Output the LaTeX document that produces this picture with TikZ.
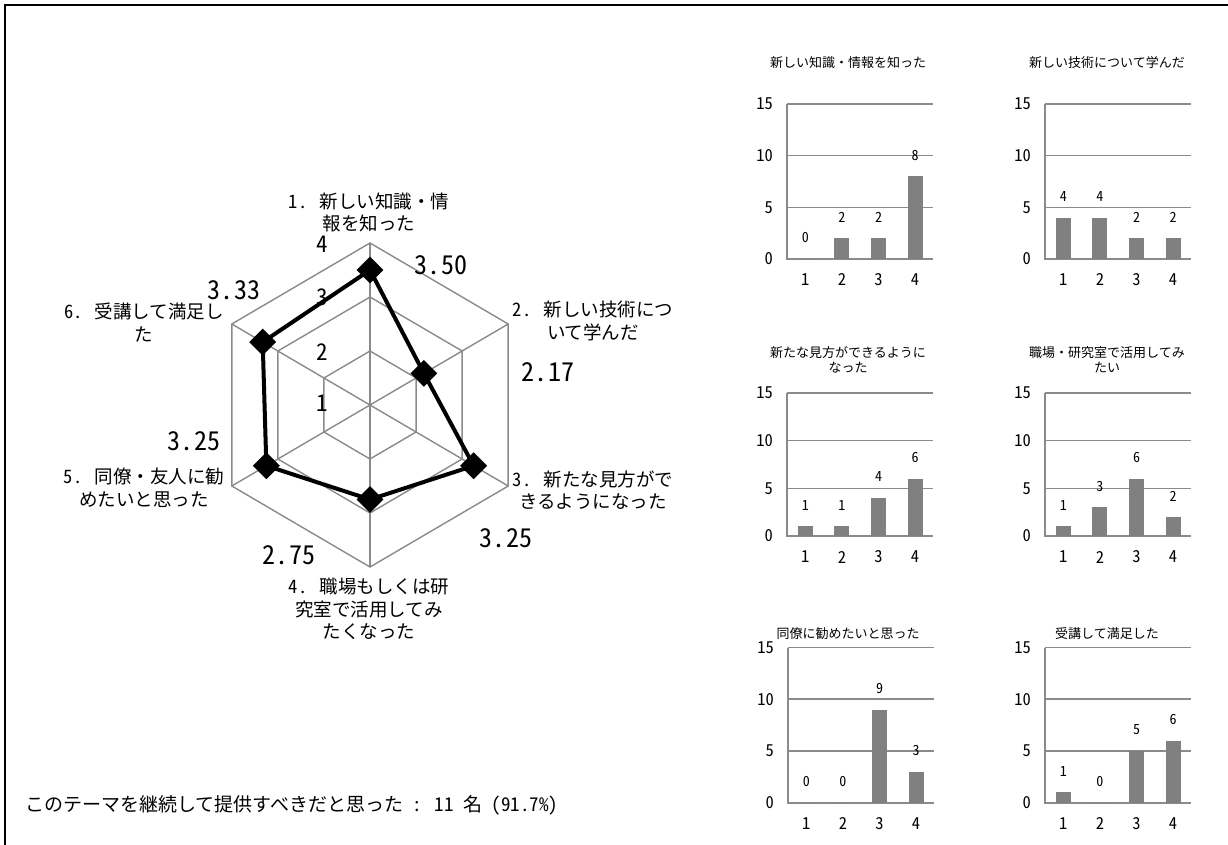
\documentclass[tikz,border=0pt]{standalone}
\usepackage{fontspec}
\setmainfont[RawFeature=+hwid]{Noto Sans CJK JP}
\usetikzlibrary{shapes.geometric}
\definecolor{gridgray}{RGB}{138,138,138}
\definecolor{barfill}{RGB}{128,128,128}
\tikzset{
  radargrid/.style={draw=gridgray,line width=1.4pt},
  dataline/.style={draw=black,line width=4pt,line join=round},
  datadiamond/.style={diamond,aspect=1,fill=black,minimum size=27pt,inner sep=0pt},
  catlab/.style={align=center,inner sep=0pt,font=\fontsize{18.5}{22.5}\selectfont},
  vallab/.style={inner sep=0pt,font=\fontsize{26}{28}\selectfont},
  axlab/.style={inner sep=0pt,font=\fontsize{23}{25}\selectfont},
  bargrid/.style={draw=gridgray,line width=1.5pt},
  baraxis/.style={draw=gridgray,line width=2pt},
  barbox/.style={fill=barfill},
  ticklab/.style={anchor=east,inner sep=0pt,font=\fontsize{16.5}{18}\selectfont},
  catnum/.style={inner sep=0pt,font=\fontsize{16.5}{18}\selectfont},
  barval/.style={inner sep=0pt,font=\fontsize{14}{16}\selectfont},
  bartitle/.style={align=center,inner sep=0pt,font=\fontsize{13}{15.5}\selectfont},
}
\newcommand\mybars[8]{%
\begin{scope}[shift={(#1,#2)}]
\foreach \k in {5,10,15}{\draw[bargrid] (0,-\k*#3) -- (146,-\k*#3);}
\draw[baraxis] (0,-15*#3) -- (0,0) -- (146,0);
\foreach \k in {0,5,10,15}{\node[ticklab] (#8-y\k) at (-14,-\k*#3) {\k};}
\foreach \v [count=\i] in {#4,#5,#6,#7}{%
  \pgfmathsetmacro\cx{18.3+36.6*(\i-1)}
  \fill[barbox] (\cx-7.5,0) rectangle (\cx+7.5,-\v*#3);
  \node[barval] (#8-v\i) at (\cx,-\v*#3-21) {\v};
  \node[catnum] (#8-x\i) at (\cx,21) {\i};
}
\end{scope}}
\begin{document}
\begin{tikzpicture}[x=1pt,y=-1pt]
\useasboundingbox (0,0) rectangle (1228,845);
% frame
\coordinate (f1) at (5,845);
\coordinate (f2) at (5,5);
\coordinate (f3) at (1228,5);
\draw[line width=1.2pt] (f1) -- (f2) -- (f3);

% radar chart
\begin{scope}[shift={(370,405)},xscale=0.985]
  \foreach \r in {54,108,162}{
    \draw[radargrid] (-90:\r) -- (-30:\r) -- (30:\r) -- (90:\r) -- (150:\r) -- (210:\r) -- cycle;
  }
  \foreach \a in {-90,-30,30,90,150,210}{\draw[radargrid] (0,0) -- (\a:162);}
\end{scope}
\node[axlab] (a1) at (322,403) {1};
\node[axlab] (a2) at (322,352) {2};
\node[axlab] (a3) at (322,297) {3};
\node[axlab] (a4) at (322,244) {4};
\begin{scope}[shift={(370,405)},xscale=0.985]
  \coordinate (q1) at (-90:135);
  \coordinate (q2) at (-30:63.2);
  \coordinate (q3) at (30:121.5);
  \coordinate (q4) at (90:94.5);
  \coordinate (q5) at (150:121.5);
  \coordinate (q6) at (210:125.8);
\end{scope}
\draw[dataline] (q1) -- (q2) -- (q3) -- (q4) -- (q5) -- (q6) -- cycle;
\foreach \j in {1,...,6}{\node[datadiamond] (p\j) at (q\j) {};}

\node[vallab] (v1) at (441,265) {3.\kern1pt50};
\node[vallab] (v2) at (548,372) {2.\kern1pt17};
\node[vallab] (v3) at (506,538) {3.\kern1pt25};
\node[vallab] (v4) at (289,555) {2.\kern1pt75};
\node[vallab] (v5) at (194,441) {3.\kern1pt25};
\node[vallab] (v6) at (234,290) {3.\kern1pt33};

\node[catlab] (c1) at (369,212.5) {1. 新しい知識・情\\報を知った};
\node[catlab] (c2) at (593,321) {2. 新しい技術につ\\いて学んだ};
\node[catlab] (c3) at (593,490) {3. 新たな見方がで\\きるようになった};
\node[catlab] (c4) at (369,609) {4. 職場もしくは研\\究室で活用してみ\\たくなった};
\node[catlab] (c5) at (144,488) {5. 同僚・友人に勧\\めたいと思った};
\node[catlab] (c6) at (144,322.5) {6. 受講して満足し\\た};

\node[anchor=west,inner sep=0pt,font=\fontsize{19}{23}\selectfont] (note) at (25,805)
  {このテーマを継続して提供すべきだと思った : 11 名 (91.7\%)};

% bar charts
\node[bartitle] (t1) at (848,63) {新しい知識・情報を知った};
\node[bartitle] (t2) at (1107,63) {新しい技術について学んだ};
\node[bartitle] (t3) at (848,360) {新たな見方ができるように\\なった};
\node[bartitle] (t4) at (1107,360) {職場・研究室で活用してみ\\たい};
\node[bartitle] (t5) at (848,634) {同僚に勧めたいと思った};
\node[bartitle] (t6) at (1107,634) {受講して満足した};

\mybars{787}{259}{10.33}{0}{2}{2}{8}{b1}
\mybars{1045}{259}{10.33}{4}{4}{2}{2}{b2}
\mybars{787}{536}{9.53}{1}{1}{4}{6}{b3}
\mybars{1045}{536}{9.53}{1}{3}{6}{2}{b4}
\mybars{788}{802.5}{10.33}{0}{0}{9}{3}{b5}
\mybars{1045}{802.5}{10.33}{1}{0}{5}{6}{b6}
\end{tikzpicture}
\end{document}
